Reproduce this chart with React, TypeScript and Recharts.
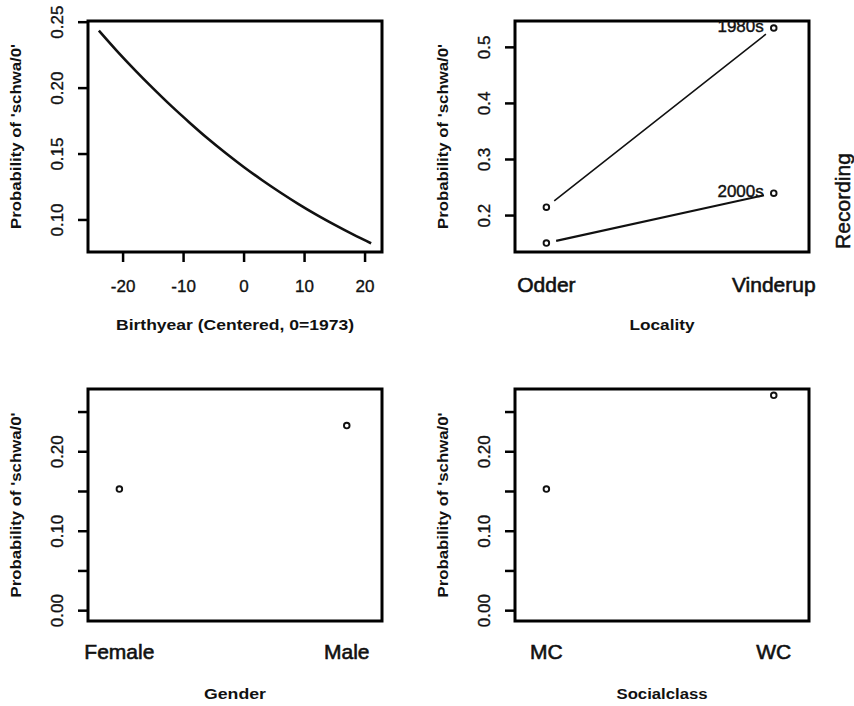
import React from 'react';
import { ComposedChart, Line, Scatter, XAxis, YAxis, ReferenceArea, Label } from 'recharts';

// ---------- data ----------
// Panel 1: birthyear effect
const birthYears = [-24, -21, -18, -15, -12, -9, -6, -3, 0, 3, 6, 9, 12, 15, 18, 21];
const birthProb = [0.2436, 0.2281, 0.2135, 0.1996, 0.1863, 0.1738, 0.1618, 0.1506, 0.14, 0.1301, 0.1208, 0.112, 0.1038, 0.0962, 0.089, 0.0823];
const birthXTicks = [-20, -10, 0, 10, 20];
const birthYTicks = [0.1, 0.15, 0.2, 0.25];

// Panel 2: locality x recording
const localities = ['Odder', 'Vinderup'];
const recordings = ['1980s', '2000s'];
const prob1980s = [0.215, 0.5345];
const prob2000s = [0.151, 0.24];
const localityYTicks = [0.2, 0.3, 0.4, 0.5];

// Panel 3: gender
const genders = ['Female', 'Male'];
const genderProb = [0.153, 0.233];

// Panel 4: social class
const classes = ['MC', 'WC'];
const classProb = [0.153, 0.271];

const probYTicks = [0, 0.05, 0.1, 0.15, 0.2, 0.25];
const catXTicks = [1, 2];

// ---------- layout / style ----------
const FONT = '"Liberation Sans", Arial, Helvetica, sans-serif';
const Y_TITLE = "Probability of 'schwa/0'";
const W = 427;
const H = 353;
const PLOT_W = 294;
const PLOT_H = 231;
const INK = '#111';

const birthXDomain: [number, number] = [-25.8, 22.8];
const birthYDomain: [number, number] = [0.0757, 0.2509];
const catXDomain: [number, number] = [0.862, 2.155];
const localityYDomain: [number, number] = [0.135, 0.547];
const probYDomain: [number, number] = [-0.013, 0.279];

const birthRows = birthYears.map((x, i) => ({ x, p: birthProb[i] }));
const localityRows = localities.map((name, i) => ({ x: i + 1, name, r1980: prob1980s[i], r2000: prob2000s[i] }));
const genderRows = genders.map((name, i) => ({ x: i + 1, name, p: genderProb[i] }));
const classRows = classes.map((name, i) => ({ x: i + 1, name, p: classProb[i] }));

const GAP = 10;
function gapDash(key: 'r1980' | 'r2000') {
  const a = localityRows[0];
  const b = localityRows[1];
  const dx = ((b.x - a.x) * PLOT_W) / (catXDomain[1] - catXDomain[0]);
  const dy = ((b[key] - a[key]) * PLOT_H) / (localityYDomain[1] - localityYDomain[0]);
  const len = Math.hypot(dx, dy);
  return `0 ${GAP} ${len - 2 * GAP} ${len + 100}`;
}

const YTick = (props: any) => {
  const { x, y, payload, fmt } = props;
  const label = fmt(payload.value, props.index);
  if (!label) return <g />;
  return (
    <text x={x} y={y} transform={`rotate(-90 ${x} ${y})`} textAnchor="middle" fontFamily={FONT} fontSize={17} fill={INK} stroke={INK} strokeWidth={0.35}>
      {label}
    </text>
  );
};

const XTick = (props: any) => {
  const { x, y, payload, fmt, size, dy, weight } = props;
  return (
    <text x={x} y={y + dy} textAnchor="middle" fontFamily={FONT} fontSize={size} fill={INK} stroke={INK} strokeWidth={weight}>
      {fmt(payload.value)}
    </text>
  );
};

const xTitle = (text: string, len: number) => (p: any) => {
  const vb = p.viewBox;
  return (
    <text x={vb.x + vb.width / 2} y={vb.y + 78} textAnchor="middle" fontFamily={FONT} fontWeight="bold" fontSize={14} fill={INK} textLength={len} lengthAdjust="spacingAndGlyphs">
      {text}
    </text>
  );
};

const yTitle = (p: any) => {
  const vb = p.viewBox;
  const cx = 16;
  const cy = vb.y + vb.height / 2;
  return (
    <text x={cx} y={cy} transform={`rotate(-90 ${cx} ${cy})`} textAnchor="middle" dominantBaseline="central" fontFamily={FONT} fontWeight="bold" fontSize={14} fill={INK} textLength={185} lengthAdjust="spacingAndGlyphs">
      {Y_TITLE}
    </text>
  );
};

const Marker = (props: any) => {
  const { cx, cy } = props;
  return <circle cx={cx} cy={cy} r={2.8} fill="#fff" stroke={INK} strokeWidth={1.9} />;
};

const makeLabelledMarker = (text: string) => (props: any) => {
  const { cx, cy, payload } = props;
  const last = payload && payload.x === localities.length;
  return (
    <g>
      <circle cx={cx} cy={cy} r={2.8} fill="#fff" stroke={INK} strokeWidth={1.9} />
      {last ? (
        <text x={cx - 10} y={cy + 3.5} textAnchor="end" fontFamily={FONT} fontSize={17} fill={INK} stroke={INK} strokeWidth={0.4}>
          {text}
        </text>
      ) : null}
    </g>
  );
};

const Box = ({ xd, yd }: { xd: [number, number]; yd: [number, number] }) => (
  <ReferenceArea x1={xd[0]} x2={xd[1]} y1={yd[0]} y2={yd[1]} fill="none" stroke="#000" strokeWidth={3} ifOverflow="visible" />
);

const fmt2 = (v: number) => v.toFixed(2);
const fmt1 = (v: number) => v.toFixed(1);
const fmtSparse = (v: number, i: number) => (i % 2 === 0 ? v.toFixed(2) : '');

export default function App() {
  const topMargin = { top: 21, right: 45, bottom: 11, left: 0 };
  const botMargin = { top: 36, right: 45, bottom: 5, left: 0 };
  const tickLine = { stroke: '#000', strokeWidth: 2.5 };

  return (
    <div style={{ position: 'absolute', left: 0, top: 0, width: 854, height: 706, background: '#fff' }}>
      {/* Panel 1 */}
      <div style={{ position: 'absolute', left: 0, top: 0 }}>
        <ComposedChart width={W} height={H} data={birthRows} margin={topMargin}>
          <XAxis dataKey="x" type="number" domain={birthXDomain} allowDataOverflow ticks={birthXTicks} interval={0} height={90} axisLine={false} tickLine={tickLine} tickSize={10} tickMargin={0} tick={(p: any) => <XTick {...p} fmt={(v: number) => String(v)} size={17} dy={29.5} weight={0.35} />}>
            <Label content={xTitle('Birthyear (Centered, 0=1973)', 238)} />
          </XAxis>
          <YAxis type="number" domain={birthYDomain} allowDataOverflow ticks={birthYTicks} interval={0} width={88} axisLine={false} tickLine={tickLine} tickSize={10} tickMargin={14.5} tick={(p: any) => <YTick {...p} fmt={fmt2} />}>
            <Label content={yTitle} />
          </YAxis>
          <Line dataKey="p" type="monotone" stroke={INK} strokeWidth={2.6} dot={false} isAnimationActive={false} />
          <Box xd={birthXDomain} yd={birthYDomain} />
        </ComposedChart>
      </div>

      {/* Panel 2 */}
      <div style={{ position: 'absolute', left: 427, top: 0 }}>
        <ComposedChart width={W} height={H} data={localityRows} margin={topMargin}>
          <XAxis dataKey="x" type="number" domain={catXDomain} allowDataOverflow ticks={catXTicks} interval={0} height={90} axisLine={false} tickLine={false} tickSize={10} tickMargin={0} tick={(p: any) => <XTick {...p} fmt={(v: number) => localities[v - 1]} size={21} dy={29.5} weight={0.6} />}>
            <Label content={xTitle('Locality', 65)} />
          </XAxis>
          <YAxis type="number" domain={localityYDomain} allowDataOverflow ticks={localityYTicks} interval={0} width={88} axisLine={false} tickLine={tickLine} tickSize={10} tickMargin={14.5} tick={(p: any) => <YTick {...p} fmt={fmt1} />}>
            <Label content={yTitle} />
          </YAxis>
          <Line dataKey="r1980" type="linear" stroke={INK} strokeWidth={1.6} strokeDasharray={gapDash('r1980')} dot={false} isAnimationActive={false} />
          <Line dataKey="r2000" type="linear" stroke={INK} strokeWidth={2.1} strokeDasharray={gapDash('r2000')} dot={false} isAnimationActive={false} />
          <Scatter dataKey="r1980" shape={makeLabelledMarker(recordings[0])} isAnimationActive={false} />
          <Scatter dataKey="r2000" shape={makeLabelledMarker(recordings[1])} isAnimationActive={false} />
          <Box xd={catXDomain} yd={localityYDomain} />
        </ComposedChart>
      </div>

      {/* Panel 3 */}
      <div style={{ position: 'absolute', left: 0, top: 353 }}>
        <ComposedChart width={W} height={H} data={genderRows} margin={botMargin}>
          <XAxis dataKey="x" type="number" domain={catXDomain} allowDataOverflow ticks={catXTicks} interval={0} height={80} axisLine={false} tickLine={false} tickSize={10} tickMargin={0} tick={(p: any) => <XTick {...p} fmt={(v: number) => genders[v - 1]} size={21} dy={28} weight={0.6} />}>
            <Label content={xTitle('Gender', 62)} />
          </XAxis>
          <YAxis type="number" domain={probYDomain} allowDataOverflow ticks={probYTicks} interval={0} width={88} axisLine={false} tickLine={tickLine} tickSize={10} tickMargin={14.5} tick={(p: any) => <YTick {...p} fmt={fmtSparse} />}>
            <Label content={yTitle} />
          </YAxis>
          <Scatter dataKey="p" shape={Marker} isAnimationActive={false} />
          <Box xd={catXDomain} yd={probYDomain} />
        </ComposedChart>
      </div>

      {/* Panel 4 */}
      <div style={{ position: 'absolute', left: 427, top: 353 }}>
        <ComposedChart width={W} height={H} data={classRows} margin={botMargin}>
          <XAxis dataKey="x" type="number" domain={catXDomain} allowDataOverflow ticks={catXTicks} interval={0} height={80} axisLine={false} tickLine={false} tickSize={10} tickMargin={0} tick={(p: any) => <XTick {...p} fmt={(v: number) => classes[v - 1]} size={21} dy={28} weight={0.6} />}>
            <Label content={xTitle('Socialclass', 91)} />
          </XAxis>
          <YAxis type="number" domain={probYDomain} allowDataOverflow ticks={probYTicks} interval={0} width={88} axisLine={false} tickLine={tickLine} tickSize={10} tickMargin={14.5} tick={(p: any) => <YTick {...p} fmt={fmtSparse} />}>
            <Label content={yTitle} />
          </YAxis>
          <Scatter dataKey="p" shape={Marker} isAnimationActive={false} />
          <Box xd={catXDomain} yd={probYDomain} />
        </ComposedChart>
      </div>

      {/* Legend title at the right of the locality panel */}
      <svg width={854} height={706} style={{ position: 'absolute', left: 0, top: 0, pointerEvents: 'none' }}>
        <text x={842} y={201} transform="rotate(-90 842 201)" textAnchor="middle" dominantBaseline="central" fontFamily={FONT} fontSize={21} fill={INK} stroke={INK} strokeWidth={0.5}>
          Recording
        </text>
      </svg>
    </div>
  );
}
